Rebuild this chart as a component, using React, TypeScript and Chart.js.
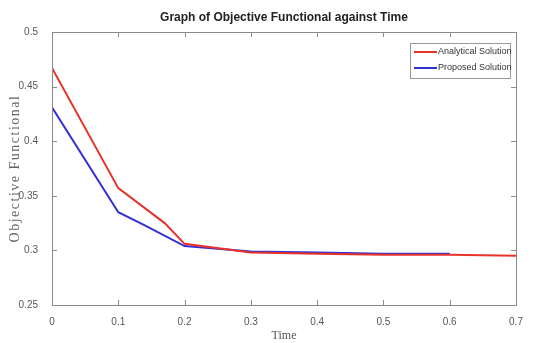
import React, { useEffect, useRef } from "react";
import { Chart, registerables } from "chart.js";

Chart.register(...registerables);

const timeAnalytical = [0, 0.1, 0.17, 0.2, 0.3, 0.4, 0.5, 0.6, 0.7];
const analyticalValues = [0.467, 0.357, 0.325, 0.306, 0.298, 0.297, 0.296, 0.296, 0.295];
const timeProposed = [0, 0.1, 0.14, 0.2, 0.3, 0.4, 0.5, 0.6];
const proposedValues = [0.431, 0.335, 0.323, 0.304, 0.299, 0.298, 0.297, 0.297];
const xTickValues = [0, 0.1, 0.2, 0.3, 0.4, 0.5, 0.6, 0.7];
const xTickLabels = ["0", "0.1", "0.2", "0.3", "0.4", "0.5", "0.6", "0.7"];
const yTickValues = [0.25, 0.3, 0.35, 0.4, 0.45, 0.5];
const yTickLabels = ["0.25", "0.3", "0.35", "0.4", "0.45", "0.5"];
const seriesNames = ["Analytical Solution", "Proposed Solution"];
const seriesColors = ["#e8322a", "#3232d2"];
const titleText = "Graph of Objective Functional against Time";
const xTitle = "Time";
const yTitle = "Objective Functional";

const boxPlugin = {
  id: "matlabBox",
  afterDraw(chart: any) {
    const { ctx, chartArea } = chart;
    const { left, right, top, bottom } = chartArea;
    ctx.save();
    ctx.strokeStyle = "#8a8a8a";
    ctx.lineWidth = 1;
    ctx.strokeRect(left + 0.5, top + 0.5, right - left, bottom - top);
    const xs = chart.scales.x;
    const ys = chart.scales.y;
    ctx.beginPath();
    xTickValues.forEach((v) => {
      const px = Math.round(xs.getPixelForValue(v)) + 0.5;
      ctx.moveTo(px, bottom);
      ctx.lineTo(px, bottom - 5);
      ctx.moveTo(px, top);
      ctx.lineTo(px, top + 5);
    });
    yTickValues.forEach((v) => {
      const py = Math.round(ys.getPixelForValue(v)) + 0.5;
      ctx.moveTo(left, py);
      ctx.lineTo(left + 5, py);
      ctx.moveTo(right, py);
      ctx.lineTo(right - 5, py);
    });
    ctx.stroke();

    // title
    ctx.fillStyle = "#222";
    ctx.font = "bold 12px 'Liberation Sans', Arial, sans-serif";
    ctx.textAlign = "center";
    ctx.textBaseline = "middle";
    ctx.fillText(titleText, (left + right) / 2, 18);

    // y axis title
    ctx.save();
    ctx.translate(15, (top + bottom) / 2);
    ctx.rotate(-Math.PI / 2);
    ctx.fillStyle = "#666";
    ctx.font = "14px 'Liberation Serif', 'Times New Roman', serif";
    (ctx as any).letterSpacing = "1.5px";
    ctx.textAlign = "center";
    ctx.textBaseline = "middle";
    ctx.fillText(yTitle, 0, 0);
    ctx.restore();

    // legend
    const bx = right - 106;
    const by = top + 11;
    const bw = 100;
    const bh = 35;
    ctx.fillStyle = "#fff";
    ctx.fillRect(bx, by, bw, bh);
    ctx.strokeStyle = "#999";
    ctx.strokeRect(bx + 0.5, by + 0.5, bw, bh);
    ctx.font = "9px 'Liberation Sans', Arial, sans-serif";
    ctx.textAlign = "left";
    ctx.textBaseline = "middle";
    seriesNames.forEach((name, i) => {
      const ly = by + 9 + i * 16;
      ctx.strokeStyle = seriesColors[i];
      ctx.lineWidth = 2;
      ctx.beginPath();
      ctx.moveTo(bx + 4, ly);
      ctx.lineTo(bx + 27, ly);
      ctx.stroke();
      ctx.fillStyle = "#333";
      ctx.fillText(name, bx + 28, ly);
    });
    ctx.restore();
  },
};

export default function App() {
  const ref = useRef<HTMLCanvasElement>(null);
  useEffect(() => {
    document.body.style.margin = "0";
    const chart = new Chart(ref.current as HTMLCanvasElement, {
      type: "line",
      data: {
        datasets: [
          {
            label: seriesNames[0],
            data: timeAnalytical.map((t, i) => ({ x: t, y: analyticalValues[i] })),
            borderColor: seriesColors[0],
            borderWidth: 2,
            pointRadius: 0,
            tension: 0,
          },
          {
            label: seriesNames[1],
            data: timeProposed.map((t, i) => ({ x: t, y: proposedValues[i] })),
            borderColor: seriesColors[1],
            borderWidth: 2,
            pointRadius: 0,
            tension: 0,
          },
        ],
      },
      options: {
        animation: false,
        responsive: false,
        layout: { padding: { top: 32, right: 18, left: 0, bottom: 0 } },
        plugins: { legend: { display: false }, title: { display: false }, tooltip: { enabled: false } },
        scales: {
          x: {
            type: "linear",
            min: 0,
            max: 0.7,
            afterBuildTicks: (s: any) => {
              s.ticks = xTickValues.map((v) => ({ value: v }));
            },
            afterFit: (s: any) => {
              s.height = 38;
            },
            ticks: {
              callback: (_v: any, i: number) => xTickLabels[i],
              color: "#555",
              font: { size: 10, family: "'Liberation Sans', Arial, sans-serif" },
              padding: 3,
              maxRotation: 0,
            },
            grid: { display: false },
            border: { display: false },
            title: {
              display: true,
              text: xTitle,
              color: "#555",
              font: { size: 12, family: "'Liberation Serif', 'Times New Roman', serif" },
              padding: { top: 0, bottom: 0 },
            },
          },
          y: {
            type: "linear",
            min: 0.25,
            max: 0.5,
            afterBuildTicks: (s: any) => {
              s.ticks = yTickValues.map((v) => ({ value: v }));
            },
            afterFit: (s: any) => {
              s.width = 52;
            },
            ticks: {
              callback: (_v: any, i: number) => yTickLabels[i],
              color: "#555",
              font: { size: 10, family: "'Liberation Sans', Arial, sans-serif" },
              padding: 6,
            },
            grid: { display: false },
            border: { display: false },
            title: { display: false },
          },
        },
      },
      plugins: [boxPlugin],
    });
    return () => chart.destroy();
  }, []);
  return (
    <div style={{ width: 534, height: 343, background: "#fff" }}>
      <canvas ref={ref} width={534} height={343} />
    </div>
  );
}
